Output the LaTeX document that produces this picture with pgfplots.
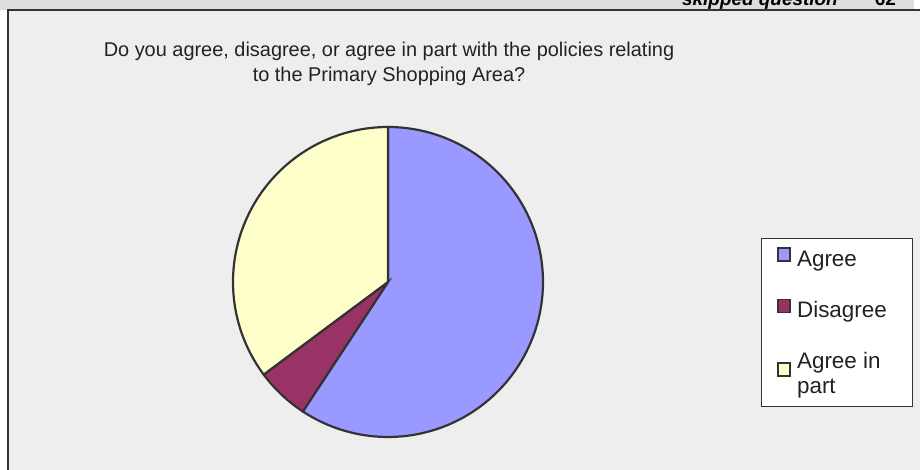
\documentclass[border=0pt]{standalone}
\usepackage{pgfplots}
\pgfplotsset{compat=1.18}
\usepackage{fontspec}
\setmainfont{Liberation Sans}
\definecolor{agreeC}{HTML}{9999FF}
\definecolor{disC}{HTML}{993366}
\definecolor{partC}{HTML}{FFFFCC}
\definecolor{edgeC}{HTML}{333333}
\definecolor{panelC}{HTML}{EEEEEE}
\definecolor{bandC}{HTML}{DDDDDD}
\definecolor{txtC}{HTML}{222222}
% counts
\def\vA{32}\def\vB{3}\def\vC{19}
\pgfmathsetmacro{\tot}{\vA+\vB+\vC}
\pgfmathsetmacro{\aA}{90-360*\vA/\tot}
\pgfmathsetmacro{\aB}{\aA-360*\vB/\tot}
\pgfmathsetmacro{\aC}{\aB-360*\vC/\tot}
\begin{document}
\begin{tikzpicture}[x=1bp,y=1bp]
\path[use as bounding box] (0,0) rectangle (920,470);
\fill[white] (0,0) rectangle (920,470);
\fill[bandC] (0,460) rectangle (914,470);
\begin{scope}
\clip (0,460) rectangle (914,470);
\node[anchor=base east, inner sep=0pt, font=\fontsize{19}{22}\selectfont\bfseries\itshape] at (838,464.5) {skipped question};
\node[anchor=base east, inner sep=0pt, font=\fontsize{19}{22}\selectfont\bfseries] at (896,464.5) {62};
\end{scope}
\fill[panelC] (8,0) rectangle (920,460);
\draw[edgeC, line width=2] (8,0) -- (8,460) -- (920,460);
\node[anchor=base, inner sep=0pt, text=txtC, font=\fontsize{20}{24}\selectfont] at (389,413)
  {Do you agree, disagree, or agree in part with the policies relating};
\node[anchor=base, inner sep=0pt, text=txtC, font=\fontsize{20}{24}\selectfont] at (389,388)
  {to the Primary Shopping Area?};
\begin{axis}[
  x=1bp, y=1bp,
  xmin=-160, xmax=160, ymin=-160, ymax=160,
  hide axis, clip=false,
  anchor=center, at={(388,188)},
  legend style={at={(1.6656,0.6375)}, anchor=north west,
    draw=edgeC, line width=0.6bp, fill=white,
    font=\fontsize{22.5}{25}\selectfont, text=txtC,
    nodes={align=left, inner sep=2bp},
    row sep=29bp, inner xsep=16bp, inner ysep=9bp,
    /tikz/every odd column/.append style={column sep=4bp}},
  legend cell align=left,
  legend image code/.code={\draw[#1, line width=1.8bp] (0bp,-2bp) rectangle (12bp,11bp);},
]
\addplot[fill=agreeC, draw=edgeC, line width=2.2bp, domain=90:\aA, samples=120]
  ({155*cos(x)},{155*sin(x)}) -- (axis cs:0,0) -- cycle;
\addlegendentry{Agree}
\addplot[fill=disC, draw=edgeC, line width=2.2bp, domain=\aA:\aB, samples=20]
  ({155*cos(x)},{155*sin(x)}) -- (axis cs:0,0) -- cycle;
\addlegendentry{Disagree\hspace*{7bp}}
\addplot[fill=partC, draw=edgeC, line width=2.2bp, domain=\aB:\aC, samples=80]
  ({155*cos(x)},{155*sin(x)}) -- (axis cs:0,0) -- cycle;
\addlegendentry{Agree in\\part\rule[-10bp]{0pt}{9bp}}
\end{axis}
\end{tikzpicture}
\end{document}
